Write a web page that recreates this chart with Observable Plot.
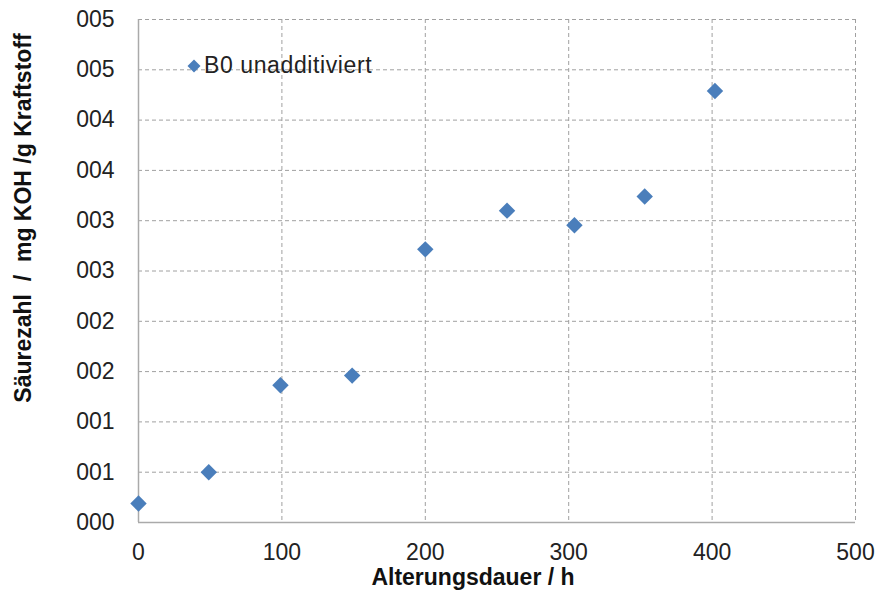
<!DOCTYPE html>
<html>
<head>
<meta charset="utf-8">
<script src="https://cdn.jsdelivr.net/npm/d3@7"></script>
<script src="https://cdn.jsdelivr.net/npm/@observablehq/plot@0.6"></script>
<style>
  html, body { margin: 0; padding: 0; background: #fff; }
  #wrap { position: relative; width: 878px; height: 590px; font-family: "Liberation Sans", Arial, sans-serif; }
  #legend { position: absolute; left: 186px; top: 52px; font-size: 23px; letter-spacing: 0.6px; color: #222; display: flex; align-items: center; }
  #legend svg { margin-right: 2px; }
</style>
</head>
<body>
<div id="wrap"></div>
<script>
const hours = [0, 49, 99, 149, 200, 257, 304, 353, 402];
const acid  = [0.00188, 0.0050, 0.01365, 0.0146, 0.02715, 0.0310, 0.02955, 0.0324, 0.0429];
const seriesName = "B0 unadditiviert";
const xTicks = [0, 100, 200, 300, 400, 500];
const yTicks = [0, 0.005, 0.01, 0.015, 0.02, 0.025, 0.03, 0.035, 0.04, 0.045, 0.05];
const yTickLabels = ["000", "001", "001", "002", "002", "003", "003", "004", "004", "005", "005"];
const xTitle = "Alterungsdauer / h";
const yTitle = "Säurezahl  /  mg KOH /g Kraftstoff";
const color = "#4a7ebb";

const data = hours.map((h, i) => ({h, v: acid[i]}));

const chart = Plot.plot({
  width: 878,
  height: 590,
  marginLeft: 138,
  marginRight: 23,
  marginTop: 19,
  marginBottom: 68,
  style: {fontFamily: "Liberation Sans, Arial, sans-serif", fontSize: "23px", color: "#222", background: "#fff", overflow: "visible"},
  x: {domain: [0, 500], ticks: xTicks},
  y: {domain: [0, 0.05], ticks: yTicks},
  marks: [
    Plot.gridY(yTicks.filter(d => d > 0), {stroke: "#a0a0a0", strokeOpacity: 1, strokeDasharray: "4,3"}),
    Plot.gridX(xTicks.filter(d => d > 0), {stroke: "#a0a0a0", strokeOpacity: 1, strokeDasharray: "4,3"}),
    Plot.ruleY([0], {stroke: "#aaa", strokeWidth: 1.5}),
    Plot.ruleX([0], {stroke: "#aaa", strokeWidth: 1.5}),
    Plot.axisX(xTicks, {tickSize: 0, tickPadding: 21, fontSize: 23, label: null, style: "letter-spacing:0.8px"}),
    Plot.axisY(yTicks, {tickSize: 0, tickPadding: 24, fontSize: 23, label: null,
      tickFormat: d => yTickLabels[Math.round(d / 0.005)], style: "letter-spacing:0.8px"}),
    Plot.dot(data, {x: "h", y: "v", symbol: "diamond2", r: 7.4, fill: color, stroke: null})
  ]
});

const svg = d3.select(chart);
svg.append("text")
  .attr("x", 473).attr("y", 585)
  .attr("text-anchor", "middle")
  .attr("font-weight", "bold").attr("font-size", 23).attr("fill", "#111")
  .text(xTitle);
svg.append("text")
  .attr("transform", "translate(31,218) rotate(-90)")
  .attr("text-anchor", "middle")
  .attr("font-weight", "bold").attr("font-size", 23).attr("fill", "#111")
  .text(yTitle);

document.getElementById("wrap").appendChild(chart);

const leg = document.createElement("div");
leg.id = "legend";
leg.innerHTML = `<svg width="16" height="16" viewBox="-8 -8 16 16"><path d="M0,-6.5L6.5,0L0,6.5L-6.5,0Z" fill="${color}"/></svg><span>${seriesName}</span>`;
document.getElementById("wrap").appendChild(leg);
</script>
</body>
</html>
